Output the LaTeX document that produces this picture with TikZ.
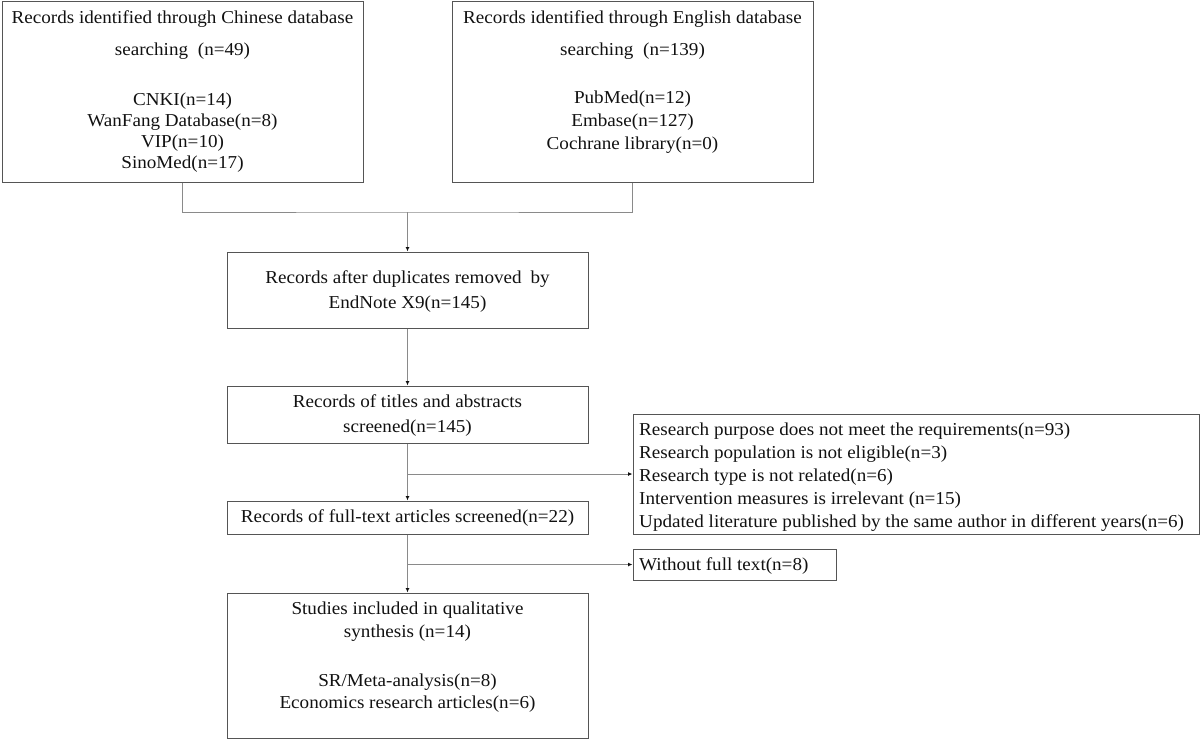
\documentclass[tikz,border=0pt]{standalone}
\usepackage{fontspec}
\setmainfont[FakeStretch=1.05]{Liberation Serif}
\usetikzlibrary{arrows.meta}
\definecolor{boxline}{HTML}{555555}
\definecolor{conline}{HTML}{8A8A8A}
\definecolor{ink}{HTML}{111111}
\tikzset{
  box/.style={draw=boxline, line width=1pt, inner sep=0pt},
  txt/.style={anchor=base, inner sep=0pt, text=ink, font=\fontsize{18.2}{21}\selectfont},
  ltxt/.style={txt, anchor=base west},
  conn/.style={draw=conline, line width=1pt},
  arr/.style={conn, -{Latex[length=4.5pt,width=4pt,color=ink]}}
}
\begin{document}
\begin{tikzpicture}[x=1pt,y=-1pt]
\useasboundingbox (0,0) rectangle (1200,740);
% boxes
\node[box, minimum width=361pt, minimum height=181pt] (A) at (182.5,91.5) {};
\node[box, minimum width=361pt, minimum height=181pt] (B) at (632.5,91.5) {};
\node[box, minimum width=361pt, minimum height=76pt] (C) at (407.5,290) {};
\node[box, minimum width=361pt, minimum height=57pt] (D) at (407.5,414.5) {};
\node[box, minimum width=361pt, minimum height=33pt] (F) at (407.5,517.5) {};
\node[box, minimum width=361pt, minimum height=145pt] (H) at (407.5,665.5) {};
\node[box, minimum width=566pt, minimum height=120pt] (E) at (916,474) {};
\node[box, minimum width=203pt, minimum height=31pt] (G) at (734.5,564.5) {};
% texts box A
\node[txt] (a1) at (182.5,23) {Records identified through Chinese database};
\node[txt] (a2) at (182.5,55) {searching\hspace{5pt} (n=49)};
\node[txt] (a3) at (182.5,105) {CNKI(n=14)};
\node[txt] (a4) at (182.5,126) {WanFang Database(n=8)};
\node[txt] (a5) at (182.5,147) {VIP(n=10)};
\node[txt] (a6) at (182.5,168) {SinoMed(n=17)};
% texts box B
\node[txt] (b1) at (632.5,23) {Records identified through English database};
\node[txt] (b2) at (632.5,55) {searching\hspace{5pt} (n=139)};
\node[txt] (b3) at (632.5,103) {PubMed(n=12)};
\node[txt] (b4) at (632.5,126) {Embase(n=127)};
\node[txt] (b5) at (632.5,149) {Cochrane library(n=0)};
% box C
\node[txt] (c1) at (407.5,283) {Records after duplicates removed\hspace{4pt} by};
\node[txt] (c2) at (407.5,308) {EndNote X9(n=145)};
% box D
\node[txt] (d1) at (407.5,407) {Records of titles and abstracts};
\node[txt] (d2) at (407.5,432) {screened(n=145)};
% box F
\node[txt] (f1) at (407.5,522) {Records of full-text articles screened(n=22)};
% box H
\node[txt] (h1) at (407.5,614) {Studies included in qualitative};
\node[txt] (h2) at (407.5,637) {synthesis (n=14)};
\node[txt] (h3) at (407.5,686) {SR/Meta-analysis(n=8)};
\node[txt] (h4) at (407.5,708) {Economics research articles(n=6)};
% box E
\node[ltxt] (e1) at (639,435) {Research purpose does not meet the requirements(n=93)};
\node[ltxt] (e2) at (639,458) {Research population is not eligible(n=3)};
\node[ltxt] (e3) at (639,481) {Research type is not related(n=6)};
\node[ltxt] (e4) at (639,504) {Intervention measures is irrelevant (n=15)};
\node[ltxt] (e5) at (639,527) {Updated literature published by the same author in different years(n=6)};
% box G
\node[ltxt] (g1) at (639,570) {Without full text(n=8)};
% connectors
\coordinate (j) at (407.5,212);
\draw[conn] (A.south) |- (j) -| (B.south);
\draw[arr] (j) -- (C.north);
\draw[arr] (C.south) -- (D.north);
\draw[arr] (D.south) -- (F.north);
\coordinate (k) at (D.south |- E.west);
\draw[arr] (k) -- (E.west);
\draw[arr] (F.south) -- (H.north);
\coordinate (m) at (F.south |- G.west);
\draw[arr] (m) -- (G.west);
\end{tikzpicture}
\end{document}
